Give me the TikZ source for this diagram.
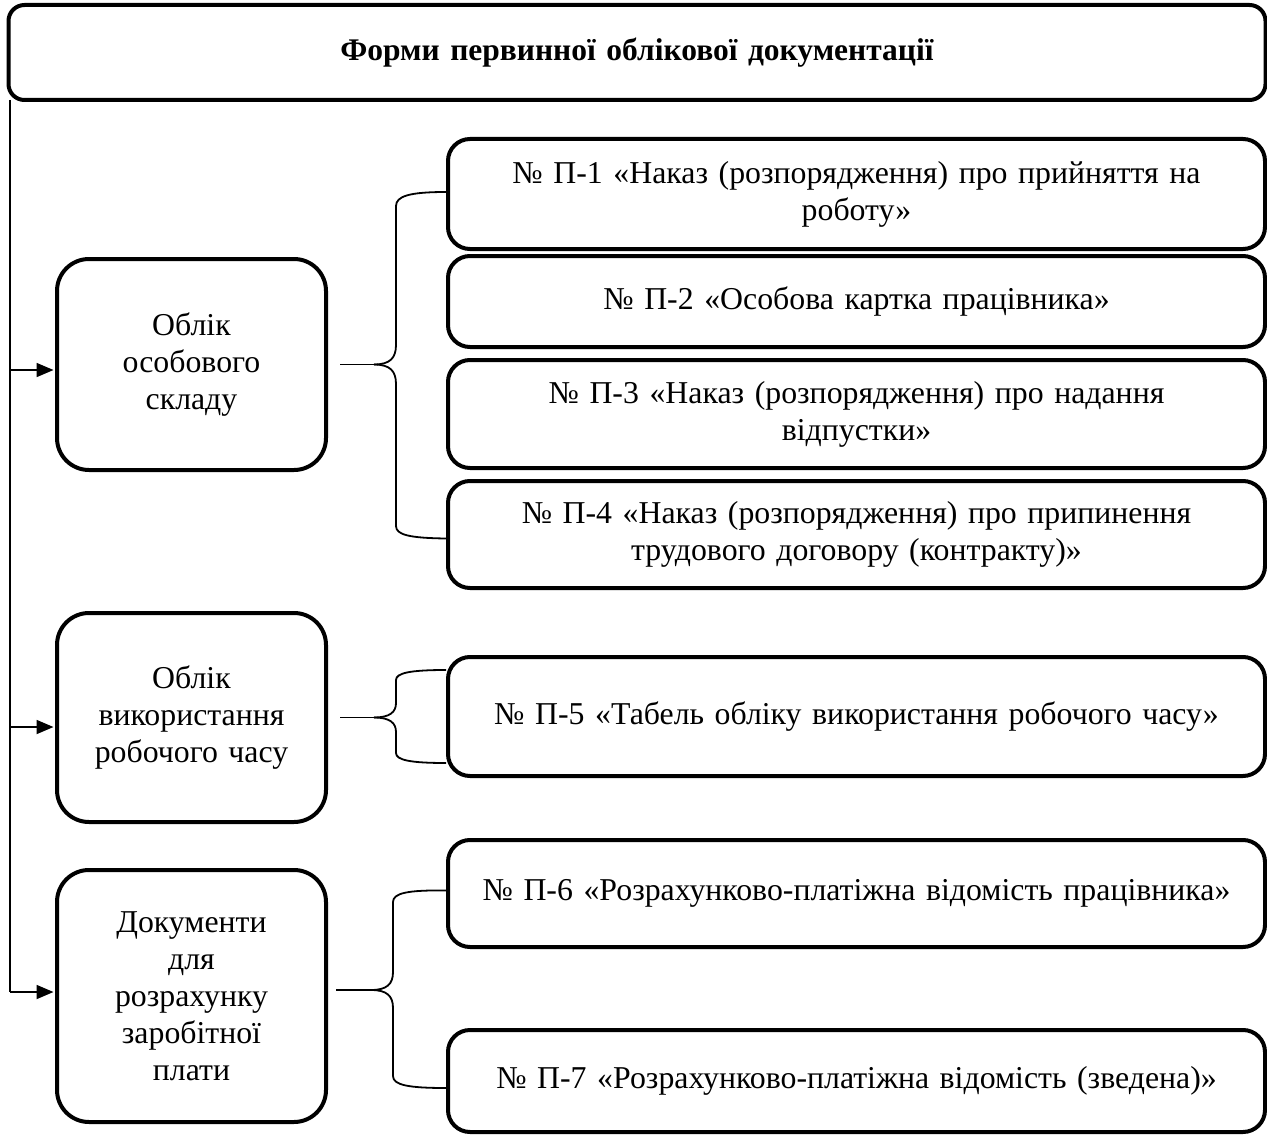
\documentclass[tikz,border=0pt]{standalone}
\usepackage{fontspec}
\setmainfont{Liberation Serif}
\usetikzlibrary{arrows.meta,calc}
\begin{document}
\begin{tikzpicture}[x=1pt,y=-1pt,
  box/.style={draw,line width=4pt,rounded corners=#1,align=center,inner sep=0pt,
    font=\fontsize{31.8}{37}\selectfont},
  box/.default=22pt,
  leftbox/.style={box=32pt,minimum width=269pt,text width=250pt},
  rightbox/.style={box=22pt,minimum width=817pt,text width=800pt},
  conn/.style={line width=1.8pt},
  arr/.style={conn,-{Triangle[length=17pt,width=14pt]},shorten >=1.5pt}]
\useasboundingbox (0,0) rectangle (1267,1137);

\node[box=16pt,minimum width=1257pt,minimum height=95pt,text width=1200pt,
  font=\bfseries\fontsize{31.5}{36}\selectfont] (top) at (637,52.5)
  {Форми первинної облікової документації};

\node[leftbox,minimum height=211pt] (b1) at (191.5,364.5) {Облік\\особового\\складу};
\node[leftbox,minimum height=209pt] (b2) at (191.5,717.5) {Облік\\використання\\робочого часу};
\node[leftbox,minimum height=252pt] (b3) at (191.5,996) {Документи\\для\\розрахунку\\заробітної\\плати};

\node[rightbox,minimum height=110pt] (p1) at (856.5,194) {№ П-1 «Наказ (розпорядження) про прийняття на\\роботу»};
\node[rightbox,minimum height=91pt] (p2) at (856.5,301.5) {№ П-2 «Особова картка працівника»};
\node[rightbox,minimum height=108pt] (p3) at (856.5,414) {№ П-3 «Наказ (розпорядження) про надання\\відпустки»};
\node[rightbox,minimum height=107pt] (p4) at (856.5,534.5) {№ П-4 «Наказ (розпорядження) про припинення\\трудового договору (контракту)»};
\node[rightbox,minimum height=119pt] (p5) at (856.5,716.5) {№ П-5 «Табель обліку використання робочого часу»};
\node[rightbox,minimum height=107pt] (p6) at (856.5,893.5) {№ П-6 «Розрахунково-платіжна відомість працівника»};
\node[rightbox,minimum height=102pt] (p7) at (856.5,1081) {№ П-7 «Розрахунково-платіжна відомість (зведена)»};

% trunk and arrows
\coordinate (t0) at (10,100);
\coordinate (t1) at (10,370);
\coordinate (t2) at (10,727);
\coordinate (t3) at (10,992);
\draw[conn] (t0) -- (t3);
\draw[arr] (t1) -- (t1 -| b1.west);
\draw[arr] (t2) -- (t2 -| b2.west);
\draw[arr] (t3) -- (t3 -| b3.west);

% brace 1
\coordinate (m1) at (374,364.5);
\draw[conn] ($(b1.east)+(12,0)$) -- (m1);
\draw[conn] (m1) .. controls (390,364.5) and (396,358) .. (396,345) -- (396,206)
  .. controls (396,196) and (410,192) .. ($(p1.west)+(0,-2)$);
\draw[conn] (m1) .. controls (390,364.5) and (396,371) .. (396,384) -- (396,526)
  .. controls (396,535) and (410,538) .. ($(p4.west)+(0,4)$);

% brace 2
\coordinate (m2) at (374,717.5);
\draw[conn] ($(b2.east)+(12,0)$) -- (m2);
\draw[conn] (m2) .. controls (390,717.5) and (396,712) .. (396,703) -- (396,680)
  .. controls (396,673) and (410,670) .. ($(p5.west)+(0,-46.5)$);
\draw[conn] (m2) .. controls (390,717.5) and (396,723) .. (396,732) -- (396,753)
  .. controls (396,760) and (410,763) .. ($(p5.west)+(0,46.5)$);

% brace 3
\coordinate (m3) at (371,990);
\draw[conn] ($(b3.east)+(8,-6)$) -- (m3);
\draw[conn] (m3) .. controls (387,990) and (393,984) .. (393,972) -- (393,902)
  .. controls (393,893) and (408,890) .. ($(p6.west)+(0,-3)$);
\draw[conn] (m3) .. controls (387,990) and (393,996) .. (393,1008) -- (393,1076)
  .. controls (393,1085) and (408,1088) .. ($(p7.west)+(0,7)$);
\end{tikzpicture}
\end{document}
